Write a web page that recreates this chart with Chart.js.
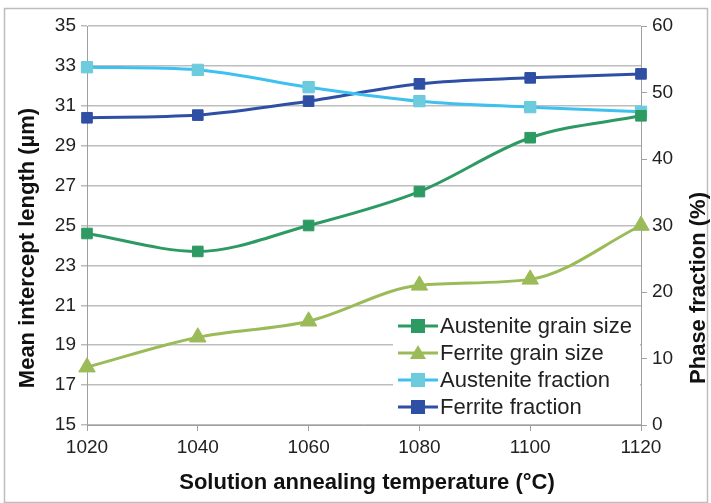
<!DOCTYPE html>
<html>
<head>
<meta charset="utf-8">
<script src="https://cdn.jsdelivr.net/npm/chart.js@4"></script>
<style>
  html, body { margin: 0; padding: 0; background: #fff; }
  #wrap { width: 711px; height: 503px; position: relative; }
</style>
</head>
<body>
<div id="wrap"><canvas id="chart" width="711" height="503"></canvas></div>
<script>
// temperatures (°C)
const temps = [1020, 1040, 1060, 1080, 1100, 1120];

// left axis - mean intercept length (µm)
const austeniteSize = [24.6, 23.7, 25.0, 26.7, 29.4, 30.5];
const ferriteSize   = [17.9, 19.4, 20.2, 22.0, 22.3, 25.0];

// right axis - phase fraction (%)
const austeniteFrac = [53.8, 53.4, 50.8, 48.7, 47.8, 47.1];
const ferriteFrac   = [46.2, 46.6, 48.7, 51.3, 52.2, 52.8];

const seriesNames = ['Austenite grain size', 'Ferrite grain size', 'Austenite fraction', 'Ferrite fraction'];
const xTitle = 'Solution annealing temperature (°C)';
const yTitle = 'Mean intercept length (µm)';
const y2Title = 'Phase fraction (%)';

const FONT = "'Liberation Sans', Arial, sans-serif";

function pts(vals) {
    return vals.map((v, i) => ({ x: temps[i], y: v }));
}

// legend in a white box inside the plot + axis titles + outer frame
const extras = {
    id: 'extras',
    afterDatasetsDraw(chart) {
        const c = chart.ctx;
        const x0 = 393, y0 = 312;
        c.save();
        c.fillStyle = '#fff';
        c.fillRect(x0, y0, 247, 110);
        c.font = '22px ' + FONT;
        c.textBaseline = 'middle';
        chart.data.datasets.forEach((ds, i) => {
            const y = y0 + 14 + i * 27;
            c.strokeStyle = ds.borderColor;
            c.lineWidth = 3;
            c.beginPath();
            c.moveTo(398, y);
            c.lineTo(438, y);
            c.stroke();
            c.fillStyle = ds.pointBackgroundColor;
            if (ds.pointStyle === 'triangle') {
                c.beginPath();
                c.moveTo(418, y - 8);
                c.lineTo(426, y + 6);
                c.lineTo(410, y + 6);
                c.closePath();
                c.fill();
            } else {
                c.fillRect(411, y - 7, 14, 14);
            }
            c.fillStyle = '#222';
            c.fillText(ds.label, 440, y + 1);
        });
        c.restore();
    },
    afterDraw(chart) {
        const c = chart.ctx;
        c.save();
        c.strokeStyle = '#bdbdbd';
        c.lineWidth = 1.5;
        c.strokeRect(4.5, 8.5, 703, 494);

        c.fillStyle = '#111';
        c.font = 'bold 22px ' + FONT;
        c.textAlign = 'center';
        c.textBaseline = 'middle';
        c.fillText(xTitle, 367, 483);

        c.translate(28, 248);
        c.rotate(-Math.PI / 2);
        c.fillText(yTitle, 0, 0);
        c.restore();

        c.save();
        c.fillStyle = '#111';
        c.font = 'bold 22px ' + FONT;
        c.textAlign = 'center';
        c.textBaseline = 'middle';
        c.translate(699, 288);
        c.rotate(-Math.PI / 2);
        c.fillText(y2Title, 0, 0);
        c.restore();
    }
};

new Chart(document.getElementById('chart'), {
    type: 'line',
    data: {
        datasets: [
            { label: seriesNames[0], data: pts(austeniteSize), yAxisID: 'y',
              borderColor: '#2e9a63', pointBackgroundColor: '#2e9a63', pointBorderColor: '#2e9a63',
              pointStyle: 'rect', pointRadius: 7.5 },
            { label: seriesNames[1], data: pts(ferriteSize), yAxisID: 'y',
              borderColor: '#9bbb59', pointBackgroundColor: '#9bbb59', pointBorderColor: '#9bbb59',
              pointStyle: 'triangle', pointRadius: 9.5 },
            { label: seriesNames[2], data: pts(austeniteFrac), yAxisID: 'y2',
              borderColor: '#3ec1ee', pointBackgroundColor: '#6ccbdc', pointBorderColor: '#6ccbdc',
              pointStyle: 'rect', pointRadius: 8 },
            { label: seriesNames[3], data: pts(ferriteFrac), yAxisID: 'y2',
              borderColor: '#2e4fa3', pointBackgroundColor: '#2e4fa3', pointBorderColor: '#2e4fa3',
              pointStyle: 'rect', pointRadius: 7.5 }
        ]
    },
    options: {
        responsive: false,
        animation: false,
        layout: { padding: { top: 26, left: 0, right: 0, bottom: 0 } },
        elements: { line: { borderWidth: 3, tension: 0.35, cubicInterpolationMode: 'monotone' }, point: { borderWidth: 1 } },
        datasets: { line: { clip: false } },
        plugins: { legend: { display: false }, tooltip: { enabled: false } },
        scales: {
            x: {
                type: 'linear', min: 1020, max: 1120,
                afterFit: s => { s.height = 78; },
                ticks: { stepSize: 20, color: '#222', font: { family: FONT, size: 19 }, padding: 5,
                         callback: v => String(v) },
                grid: { display: true, drawOnChartArea: false, tickLength: 6, color: '#a0a0a0' },
                border: { color: '#a0a0a0' }
            },
            y: {
                position: 'left', min: 15, max: 35,
                afterFit: s => { s.width = 87; },
                ticks: { stepSize: 2, color: '#222', font: { family: FONT, size: 19 }, padding: 5 },
                grid: { color: '#bdbdbd', lineWidth: 1.5, tickLength: 6 },
                border: { color: '#a0a0a0' }
            },
            y2: {
                position: 'right', min: 0, max: 60,
                afterFit: s => { s.width = 70; },
                ticks: { stepSize: 10, color: '#222', font: { family: FONT, size: 19 }, padding: 5 },
                grid: { drawOnChartArea: false, tickLength: 6, color: '#a0a0a0' },
                border: { color: '#a0a0a0' }
            }
        }
    },
    plugins: [extras]
});
</script>
</body>
</html>
